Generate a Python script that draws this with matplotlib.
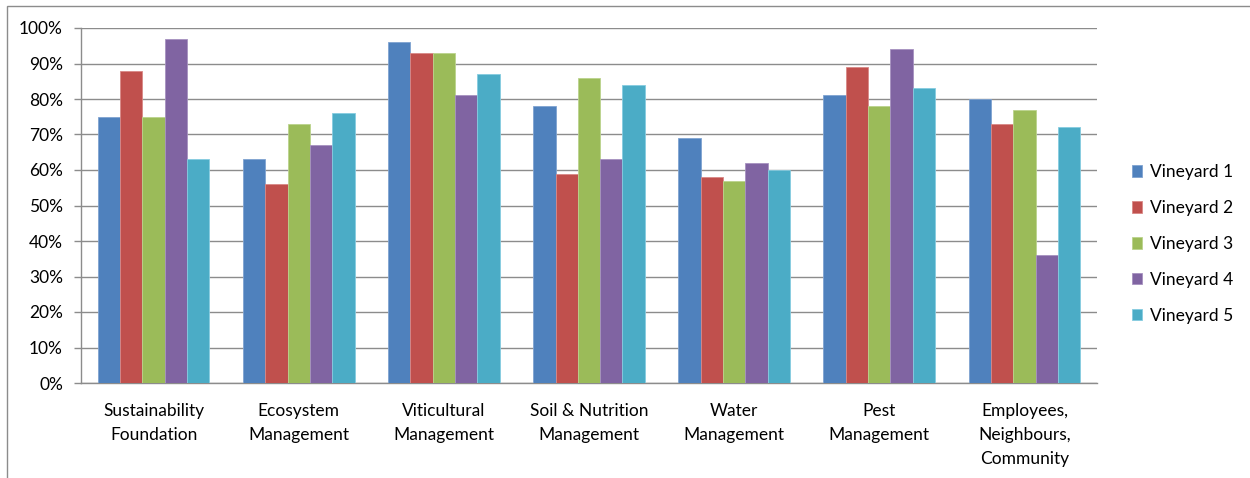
import matplotlib.pyplot as plt
import numpy as np
from matplotlib.patches import Rectangle

categories = ["Sustainability\nFoundation", "Ecosystem\nManagement",
              "Viticultural\nManagement", "Soil & Nutrition\nManagement",
              "Water\nManagement", "Pest\nManagement",
              "Employees,\nNeighbours,\nCommunity"]
series = ["Vineyard 1", "Vineyard 2", "Vineyard 3", "Vineyard 4", "Vineyard 5"]
vineyard1 = [75, 63, 96, 78, 69, 81, 80]
vineyard2 = [88, 56, 93, 59, 58, 89, 73]
vineyard3 = [75, 73, 93, 86, 57, 78, 77]
vineyard4 = [97, 67, 81, 63, 62, 94, 36]
vineyard5 = [63, 76, 87, 84, 60, 83, 72]
values = [vineyard1, vineyard2, vineyard3, vineyard4, vineyard5]
colors = ["#4F81BD", "#C0504D", "#9BBB59", "#8064A2", "#4BACC6"]
edges = ["#7FA3D1", "#D98886", "#BBD38D", "#A691C0", "#86CCE0"]
yticks = [0, 10, 20, 30, 40, 50, 60, 70, 80, 90, 100]

plt.rcParams['font.family'] = ['Lato', 'DejaVu Sans']
fs = 12.5

W, H = 1250, 478
fig = plt.figure(figsize=(W / 100, H / 100), dpi=100)

# chart area frame (runs past the right and bottom edges)
fig.patches.append(Rectangle((7 / W, -0.1), 1.2, 1 - 6 / H + 0.1,
                             transform=fig.transFigure, fill=False,
                             edgecolor="#8C8C8C", linewidth=1.0))

ax = fig.add_axes([81 / W, 1 - 383 / H, (1097 - 81) / W, (383 - 28) / H])

n = len(series)
x = np.arange(len(categories))
gap = 1.5
bw = 1 / (n + gap)
for i, (name, vals) in enumerate(zip(series, values)):
    offs = (i - (n - 1) / 2) * bw
    ax.bar(x + offs, vals, bw, color=colors[i], edgecolor=edges[i],
           linewidth=0.6, label=name, zorder=3)

ax.set_xlim(-0.5, len(categories) - 0.5)
ax.set_ylim(0, 100)
ax.set_yticks(yticks)
ax.set_yticklabels([f"{t}%" for t in yticks], fontsize=fs)
ax.yaxis.grid(True, color="#8C8C8C", linewidth=1.0, zorder=0)
ax.set_axisbelow(True)
ax.set_xticks(x)
ax.set_xticklabels(categories, fontsize=fs, linespacing=1.62)
ax.tick_params(axis='x', length=0, pad=14.5)
ax.tick_params(axis='y', length=5, color="#8C8C8C", width=1.0, pad=8)
for s in ["top", "right"]:
    ax.spines[s].set_visible(False)
for s in ["left", "bottom"]:
    ax.spines[s].set_color("#8C8C8C")
    ax.spines[s].set_linewidth(1.0)

leg = fig.legend(loc="center left", bbox_to_anchor=(1116 / W, 1 - 244 / H),
                 frameon=False, fontsize=fs, handlelength=0.62,
                 handleheight=0.62, handletextpad=0.45, labelspacing=1.15)

fig.savefig("out.png", dpi=100)
